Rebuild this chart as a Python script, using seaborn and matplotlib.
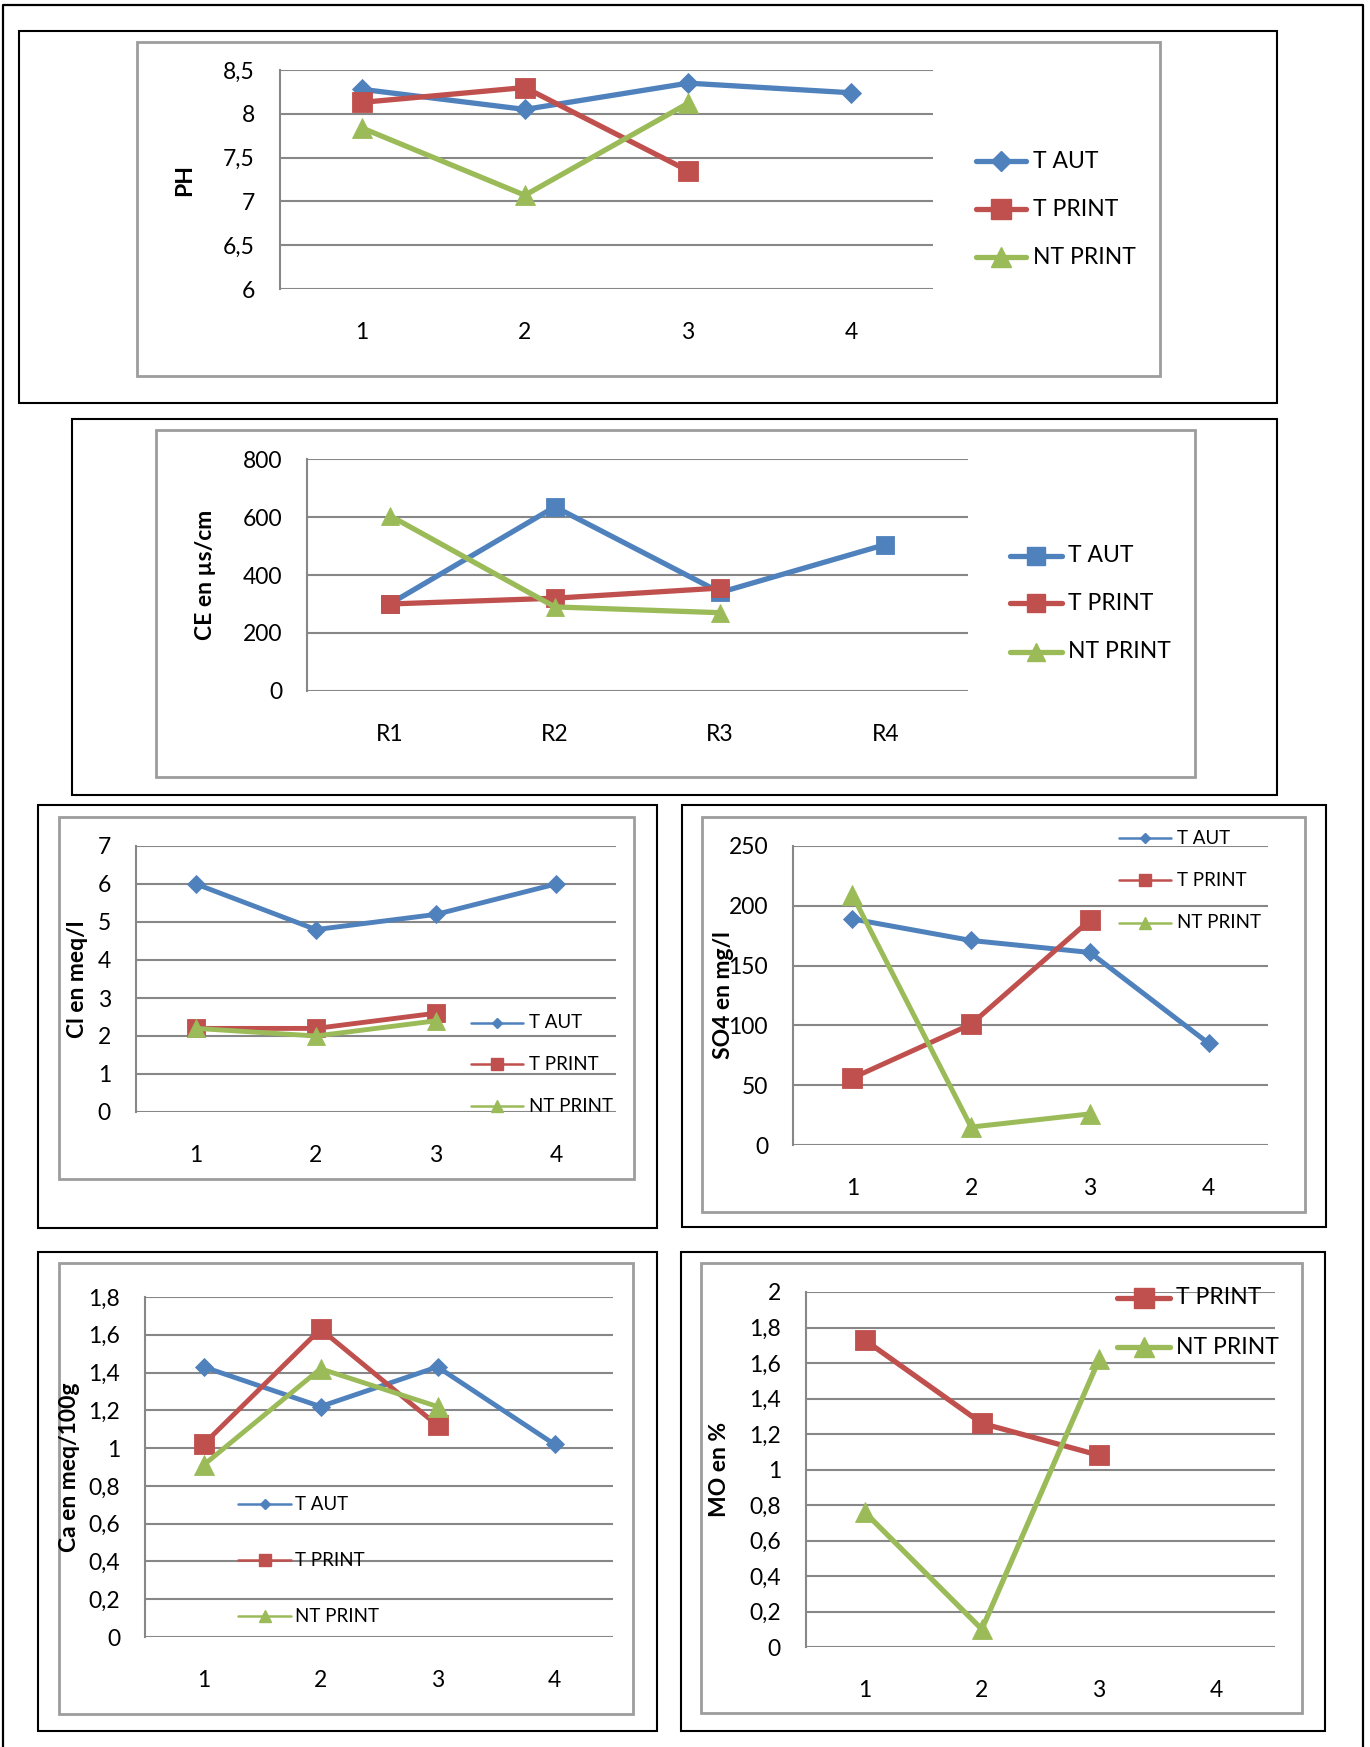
import matplotlib
matplotlib.use("Agg")
import matplotlib.pyplot as plt
from matplotlib.patches import Rectangle
from matplotlib.lines import Line2D
from matplotlib.ticker import FuncFormatter
import seaborn as sns

# ---- data -------------------------------------------------------------
positions = [1, 2, 3, 4]
num_labels = ["1", "2", "3", "4"]
ce_labels = ["R1", "R2", "R3", "R4"]
series_names = ["T AUT", "T PRINT", "NT PRINT"]

ph_taut = [8.28, 8.05, 8.35, 8.24]
ph_tprint = [8.13, 8.30, 7.35]
ph_ntprint = [7.84, 7.07, 8.12]

ce_taut = [300, 635, 340, 505]
ce_tprint = [300, 320, 355]
ce_ntprint = [605, 290, 270]

cl_taut = [6.0, 4.8, 5.2, 6.0]
cl_tprint = [2.2, 2.2, 2.6]
cl_ntprint = [2.2, 2.0, 2.4]

so4_taut = [189, 171, 161, 85]
so4_tprint = [56, 101, 188]
so4_ntprint = [209, 15, 26]

ca_taut = [1.43, 1.22, 1.43, 1.02]
ca_tprint = [1.02, 1.63, 1.12]
ca_ntprint = [0.91, 1.42, 1.22]

mo_tprint = [1.73, 1.26, 1.08]
mo_ntprint = [0.76, 0.10, 1.62]

# ---- style ------------------------------------------------------------
sns.set_theme(style="white")
plt.rcParams["font.family"] = ["Lato", "DejaVu Sans"]

BLUE, RED, GREEN = "#4F81BD", "#C0504D", "#9BBB59"
GRID = "#878787"
FRAME = "#9d9d9d"

W, H = 1370, 1747
fig = plt.figure(figsize=(W / 100, H / 100), dpi=100)
fig.patch.set_facecolor("white")


def fx(x):
    return x / W


def fy(y):
    return 1 - y / H


def box(l, t, r, b, color, lw):
    fig.add_artist(Rectangle((fx(l), fy(b)), fx(r) - fx(l), fy(t) - fy(b),
                             transform=fig.transFigure, fill=False,
                             edgecolor=color, linewidth=lw, zorder=0))


def comma(v, _pos):
    return f"{v:g}".replace(".", ",")


def panel(outer, inner, plot, ylim, ystep, ylabel, ylab_x, xlabels,
          series, legend):
    box(*outer, "black", 1.5)
    box(*inner, FRAME, 2.0)
    l, t, r, b = plot
    ax = fig.add_axes([fx(l), fy(b), fx(r) - fx(l), fy(t) - fy(b)])
    ax.patch.set_alpha(0)
    for name, vals, color, marker, ms, lw in series:
        sns.lineplot(x=positions[:len(vals)], y=vals, ax=ax, color=color,
                     linewidth=lw, marker=marker, markersize=ms,
                     markeredgecolor=color, markeredgewidth=0.6,
                     solid_joinstyle="round", zorder=3, clip_on=False)
    ax.set_xlim(0.5, 4.5)
    ax.set_ylim(*ylim)
    n = int(round((ylim[1] - ylim[0]) / ystep))
    ax.set_yticks([ylim[0] + i * ystep for i in range(n + 1)])
    ax.yaxis.set_major_formatter(FuncFormatter(comma))
    ax.set_xticks(positions, xlabels)
    ax.grid(axis="y", color=GRID, linewidth=1.5)
    ax.grid(axis="x", visible=False)
    for s in ("top", "right", "bottom"):
        ax.spines[s].set_visible(False)
    ax.spines["left"].set_color(GRID)
    ax.spines["left"].set_linewidth(1.5)
    ax.tick_params(axis="y", length=0, pad=18, labelsize=16.5, labelcolor="black")
    ax.tick_params(axis="x", length=0, pad=31, labelsize=16.5, labelcolor="black")
    for lbl in ax.get_xticklabels():
        lbl.set_va("center")
    ax.set_xlabel("")
    ax.set_ylabel(ylabel, fontsize=16.5, fontweight="bold", va="center",
                  color="black")
    ax.yaxis.set_label_coords((ylab_x - l) / (r - l), 0.5)

    # legend drawn beside / over the plot area
    x0, x1, xt, ys, fs, items = legend
    for y, (name, color, marker, ms, lw) in zip(ys, items):
        fig.add_artist(Line2D([fx(x0), fx(x1)], [fy(y), fy(y)],
                              transform=fig.transFigure, color=color,
                              linewidth=lw, solid_capstyle="round", zorder=5))
        fig.add_artist(Line2D([fx((x0 + x1) / 2)], [fy(y)],
                              transform=fig.transFigure, color=color,
                              marker=marker, markersize=ms,
                              markeredgecolor=color, zorder=6))
        fig.text(fx(xt), fy(y), name, fontsize=fs, va="center", ha="left",
                 color="black", zorder=7)
    return ax


# page frame (open at the bottom)
fig.add_artist(Line2D([fx(3), fx(3), fx(1363), fx(1363)],
                      [fy(1747), fy(5), fy(5), fy(1747)],
                      transform=fig.transFigure, color="black", linewidth=1.6))

# PH
panel((19, 31, 1277, 403), (137, 42, 1160, 376), (280, 70, 933, 289),
      (6, 8.5), 0.5, "PH", 185, num_labels,
      [("T AUT", ph_taut, BLUE, "D", 10, 3.8),
       ("T PRINT", ph_tprint, RED, "s", 14, 3.8),
       ("NT PRINT", ph_ntprint, GREEN, "^", 14, 3.8)],
      (976, 1026, 1033, [161, 209, 257], 16.5,
       [("T AUT", BLUE, "D", 10, 3.8),
        ("T PRINT", RED, "s", 14, 3.8),
        ("NT PRINT", GREEN, "^", 14, 3.8)]))

# CE
panel((72, 419, 1277, 795), (156, 430, 1195, 777), (307, 459, 968, 691),
      (0, 800), 200, "CE en µs/cm", 205, ce_labels,
      [("T AUT", ce_taut, BLUE, "s", 12.5, 3.8),
       ("T PRINT", ce_tprint, RED, "s", 12.5, 3.8),
       ("NT PRINT", ce_ntprint, GREEN, "^", 13, 3.8)],
      (1010, 1062, 1068, [556, 603, 652], 16.5,
       [("T AUT", BLUE, "s", 12.5, 3.8),
        ("T PRINT", RED, "s", 12.5, 3.8),
        ("NT PRINT", GREEN, "^", 13, 3.8)]))

# Cl
panel((38, 805, 657, 1228), (59, 817, 634, 1179), (136, 846, 616, 1112),
      (0, 7), 1, "Cl en meq/l", 77, num_labels,
      [("T AUT", cl_taut, BLUE, "D", 8.7, 3.5),
       ("T PRINT", cl_tprint, RED, "s", 13.5, 3.5),
       ("NT PRINT", cl_ntprint, GREEN, "^", 13.5, 3.5)],
      (471, 523, 529, [1023, 1064, 1106], 13.5,
       [("T AUT", BLUE, "D", 5.2, 1.8),
        ("T PRINT", RED, "s", 8.5, 1.8),
        ("NT PRINT", GREEN, "^", 8.5, 1.8)]))

# SO4
panel((682, 805, 1326, 1227), (702, 817, 1305, 1212), (793, 846, 1268, 1145),
      (0, 250), 50, "SO4 en mg/l", 724, num_labels,
      [("T AUT", so4_taut, BLUE, "D", 9.2, 3.6),
       ("T PRINT", so4_tprint, RED, "s", 14.5, 3.6),
       ("NT PRINT", so4_ntprint, GREEN, "^", 14, 3.6)],
      (1119, 1171, 1177, [838, 880, 923], 13.5,
       [("T AUT", BLUE, "D", 5.2, 1.8),
        ("T PRINT", RED, "s", 8.5, 1.8),
        ("NT PRINT", GREEN, "^", 8.5, 1.8)]))

# Ca
panel((38, 1252, 657, 1731), (59, 1263, 633, 1714), (145, 1297, 613, 1637),
      (0, 1.8), 0.2, "Ca en meq/100g", 69, num_labels,
      [("T AUT", ca_taut, BLUE, "D", 8.7, 3.5),
       ("T PRINT", ca_tprint, RED, "s", 14, 3.5),
       ("NT PRINT", ca_ntprint, GREEN, "^", 14, 3.5)],
      (238, 291, 295, [1504, 1560, 1616], 13.5,
       [("T AUT", BLUE, "D", 5.2, 1.8),
        ("T PRINT", RED, "s", 8.5, 1.8),
        ("NT PRINT", GREEN, "^", 8.5, 1.8)]))

# MO
panel((681, 1252, 1325, 1731), (701, 1263, 1302, 1713), (806, 1292, 1275, 1647),
      (0, 2.0), 0.2, "MO en %", 719, num_labels,
      [("T PRINT", mo_tprint, RED, "s", 14.5, 3.8),
       ("NT PRINT", mo_ntprint, GREEN, "^", 14.5, 3.8)],
      (1117, 1170, 1176, [1298, 1347], 16.5,
       [("T PRINT", RED, "s", 14, 3.8),
        ("NT PRINT", GREEN, "^", 14, 3.8)]))

fig.savefig("out.png", dpi=100)
